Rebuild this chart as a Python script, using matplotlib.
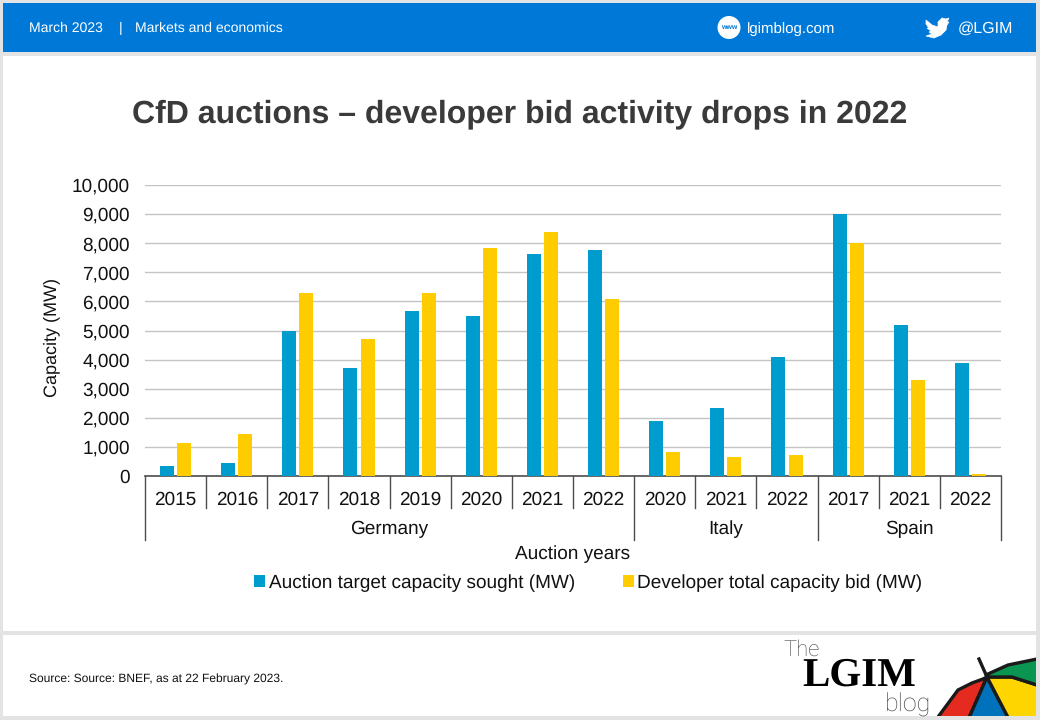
import matplotlib
matplotlib.use("Agg")
import matplotlib.pyplot as plt
from matplotlib.patches import Rectangle, Polygon, Circle
from matplotlib.ticker import FuncFormatter, MultipleLocator

plt.rcParams['font.family'] = ['Liberation Sans', 'DejaVu Sans']
plt.rcParams['text.hinting'] = 'no_hinting'
plt.rcParams['text.hinting_factor'] = 1

years = ['2015','2016','2017','2018','2019','2020','2021','2022','2020','2021','2022','2017','2021','2022']
countries = ['Germany','Italy','Spain']
country_counts = [8,3,3]
target = [350,450,5000,3700,5680,5500,7620,7780,1900,2350,4080,9000,5180,3900]
bid = [1130,1450,6280,4700,6300,7820,8400,6080,830,640,720,8000,3300,80]
series_names = ['Auction target capacity sought (MW)','Developer total capacity bid (MW)']
title = 'CfD auctions – developer bid activity drops in 2022'
header_left = 'March 2023'
header_mid = 'Markets and economics'
source = 'Source: Source: BNEF, as at 22 February 2023.'

W, H = 1040, 720
fig = plt.figure(figsize=(W/100, H/100), dpi=100, facecolor='#e3e3e3')

bg = fig.add_axes([0,0,1,1], zorder=0)
bg.set_xlim(0,W); bg.set_ylim(H,0); bg.axis('off')
bg.add_patch(Rectangle((3,3),1033,49,fc='#0078d7',ec='none'))
bg.add_patch(Rectangle((3,56),1033,575,fc='white',ec='none'))
foot = Rectangle((3,635),1033,81,fc='white',ec='none')
bg.add_patch(foot)
hc = dict(color='white', va='center', fontsize=10.3)
bg.text(29,28.3,header_left,ha='left',**hc)
bg.text(121,28.3,'|',ha='center',**hc)
bg.text(135,28.3,header_mid,ha='left',**hc)
bg.add_patch(Circle((729,27.5),11.5,fc='white',ec='none'))
bg.text(729,27,'www',ha='center',va='center',fontsize=5,color='#0078d7',fontweight='bold')
bg.text(747,29,'lgimblog.com',ha='left',va='center',color='white',fontsize=11.15)
bird = [(926,20),(932,25),(938,27),(938,22),(942,18),(946,19),(949,18),(947,22),(949,22),(947,25),
        (946,30),(941,35),(934,38),(926,36),(932,34),(929,32),(931,31),(927,28),(929,28),(926,24)]
bg.add_patch(Polygon(bird,closed=True,fc='white',ec='white',lw=0.5))
bg.text(958,29,'@LGIM',ha='left',va='center',color='white',fontsize=11.25)
bg.text(520,114.5,title,ha='center',va='center',fontsize=22.95,fontweight='bold',color='#3a3a3a')
bg.text(29,679,source,ha='left',va='center',fontsize=8.85,color='#111111')

bg.text(783,650,'The',ha='left',va='center',fontsize=15.5,color='#444444',family=['Roboto'],fontweight='light')
bg.text(802,675.5,'LGIM',ha='left',va='center',fontsize=29.5,color='black',family=['Liberation Serif'],fontweight='bold')
bg.text(885,705,'blog',ha='left',va='center',fontsize=18,color='#444444',family=['Roboto'],fontweight='light')
hub = (987,677)
for pts, col in [
    ([(930,727),(938,717),(958,690),(972,683),(983,679),hub,(965,727)],'#e52b20'),
    ([(965,727),hub,(1013,727)],'#0072bc'),
    ([hub,(1013,727),(1048,727),(1048,690),(1037,685),(1012,677)],'#ffd500'),
    ([hub,(1012,677),(1037,685),(1048,690),(1048,657),(1037,659),(1008,665),(988,674)],'#0a9650')]:
    p = Polygon(pts,closed=True,fc=col,ec='#1a1a1a',lw=2.4)
    bg.add_patch(p); p.set_clip_path(foot)
bg.plot([979,987],[659,677],color='#1a1a1a',lw=2.4)

x0,x1,ytop,ybot = 145,1001,185,476
ax = fig.add_axes([x0/W,1-ybot/H,(x1-x0)/W,(ybot-ytop)/H], zorder=1)
ax.patch.set_alpha(0)
xs = list(range(len(years)))
bw, off = 0.229, 0.14
ax.bar([x-off for x in xs],target,bw,color='#009ccd',label=series_names[0],zorder=3)
ax.bar([x+off for x in xs],bid,bw,color='#ffcc00',label=series_names[1],zorder=3)
ax.set_xlim(-0.5,len(years)-0.5)
ax.set_ylim(0,10000)
ax.yaxis.set_major_locator(MultipleLocator(1000))
ax.yaxis.set_major_formatter(FuncFormatter(lambda v,_:f'{int(v):,}'))
ax.grid(axis='y',color='#c4c4c4',lw=1.0,zorder=0)
ax.set_axisbelow(True)
for s in ['top','right','left']:
    ax.spines[s].set_visible(False)
ax.spines['bottom'].set_color('#4d4d4d'); ax.spines['bottom'].set_linewidth(1.2)
ax.tick_params(axis='y',length=0,labelsize=13.8,pad=11,labelcolor='#111111')
ax.set_xticks(xs); ax.set_xticklabels(years,fontsize=13.7,color='#111111')
ax.tick_params(axis='x',length=0,pad=10.8)
trans = ax.get_xaxis_transform()
pxh = 1/(ybot-ytop)
short = -32*pxh; tall = -64*pxh
group_edges=[-0.5]
for c in country_counts: group_edges.append(group_edges[-1]+c)
for e in range(len(years)+1):
    e_x=e-0.5
    ax.plot([e_x,e_x],[0,tall if e_x in group_edges else short],transform=trans,color='#4d4d4d',lw=1.0,clip_on=False,zorder=4)
for name,a,b in zip(countries,group_edges[:-1],group_edges[1:]):
    ax.text((a+b)/2,-53.5*pxh,name,transform=trans,ha='center',va='center',fontsize=13.6,color='#111111')
ax.text(0.5,-78.5*pxh,'Auction years',transform=ax.transAxes,ha='center',va='center',fontsize=13.7,color='#111111')
ax.set_ylabel('Capacity (MW)',fontsize=12.7,color='#111111')
ax.yaxis.set_label_coords((60-x0)/(x1-x0),0.475)
ax.legend(loc='center',bbox_to_anchor=((588.5-x0)/(x1-x0),-107*pxh),ncol=2,frameon=False,fontsize=14.0,
          handlelength=0.55,handleheight=0.6,handletextpad=0.2,columnspacing=2.45,labelcolor='#111111')
fig.savefig('out.png',dpi=100,facecolor=fig.get_facecolor())
